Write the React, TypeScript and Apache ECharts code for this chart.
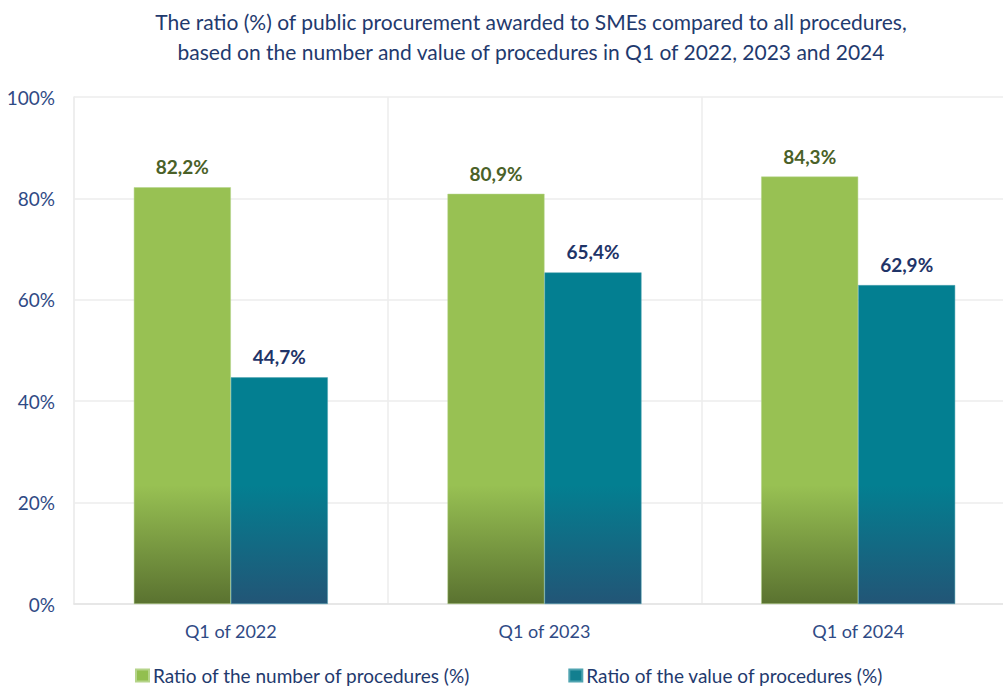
import React, { useEffect, useRef } from "react";
import * as echarts from "echarts";

const categories = ["Q1 of 2022", "Q1 of 2023", "Q1 of 2024"];
const numberRatio = [82.2, 80.9, 84.3];
const valueRatio = [44.7, 65.4, 62.9];
const yTicks = [0, 20, 40, 60, 80, 100];
const seriesNames = ["Ratio of the number of procedures (%)", "Ratio of the value of procedures (%)"];
const titleText = "The ratio (%) of public procurement awarded to SMEs compared to all procedures,\nbased on the number and value of procedures in Q1 of 2022, 2023 and 2024";

const FONT = "Lato, 'Open Sans', sans-serif";

export default function App() {
  const ref = useRef<HTMLDivElement>(null);
  useEffect(() => {
    const chart = echarts.init(ref.current!, null, { renderer: "svg" });
    const fmt = (p: any) => String(p.value.toFixed(1)).replace(".", ",") + "%";
    const grad = (top: string, bottom: string) => ({
      type: "linear",
      x: 0, y: 485, x2: 0, y2: 604,
      global: true,
      colorStops: [
        { offset: 0, color: top },
        { offset: 1, color: bottom },
      ],
    });
    chart.setOption({
      animation: false,
      backgroundColor: "#ffffff",
      textStyle: { fontFamily: FONT },
      title: {
        text: titleText,
        left: "center",
        top: 1,
        textStyle: { color: "#1F3A6E", fontSize: 21, fontWeight: "normal", lineHeight: 30, fontFamily: FONT },
      },
      grid: { left: 74, top: 97, width: 941, height: 507, containLabel: false },
      legend: {
        top: 661,
        left: 130,
        itemGap: 98,
        itemWidth: 13,
        itemHeight: 12,
        icon: "rect",
        textStyle: { color: "#1F3A6E", fontSize: 19, fontFamily: FONT, padding: [0, 0, 0, -1] },
        data: [
          { name: seriesNames[0], itemStyle: { color: "#92BF4F" } },
          { name: seriesNames[1], itemStyle: { color: "#127F8F" } },
        ],
      },
      xAxis: {
        type: "category",
        data: categories,
        axisTick: { show: false },
        axisLine: { lineStyle: { color: "#E3E3E3", width: 1.5 } },
        axisLabel: { color: "#2F4A85", fontSize: 18, margin: 18, fontFamily: FONT },
        splitLine: { show: true, lineStyle: { color: "#ECECEC", width: 1.5 } },
      },
      yAxis: {
        type: "value",
        min: 0,
        max: 100,
        interval: 20,
        axisLine: { show: true, lineStyle: { color: "#ECECEC", width: 1.5 } },
        axisTick: { show: false },
        axisLabel: {
          color: "#2F4A85",
          fontSize: 19,
          margin: 19,
          fontFamily: FONT,
          formatter: (v: number) => (yTicks.includes(v) ? v + "%" : ""),
        },
        splitLine: { lineStyle: { color: "#ECECEC", width: 1.5 } },
      },
      series: [
        {
          name: seriesNames[0],
          type: "bar",
          data: numberRatio,
          barWidth: 97,
          barGap: "0%",
          itemStyle: { color: grad("#98C153", "#5A7230"), borderColor: "#B5D48A", borderWidth: 0.5 },
          label: {
            show: true,
            position: "top",
            distance: 11,
            color: "#4A6128",
            fontWeight: "bold",
            fontSize: 19,
            fontFamily: FONT,
            formatter: fmt,
          },
        },
        {
          name: seriesNames[1],
          type: "bar",
          data: valueRatio,
          barWidth: 97,
          barGap: "0%",
          itemStyle: { color: grad("#037F91", "#225576"), borderColor: "#4FA3B0", borderWidth: 0.5 },
          label: {
            show: true,
            position: "top",
            distance: 11,
            color: "#1F3468",
            fontWeight: "bold",
            fontSize: 19,
            fontFamily: FONT,
            formatter: fmt,
          },
        },
      ],
    });
    return () => chart.dispose();
  }, []);
  return (
    <div style={{ position: "fixed", left: 0, top: 0, width: 1003, height: 687, overflow: "hidden", background: "#fff" }}>
      <div ref={ref} style={{ width: 1062, height: 687 }} />
    </div>
  );
}
